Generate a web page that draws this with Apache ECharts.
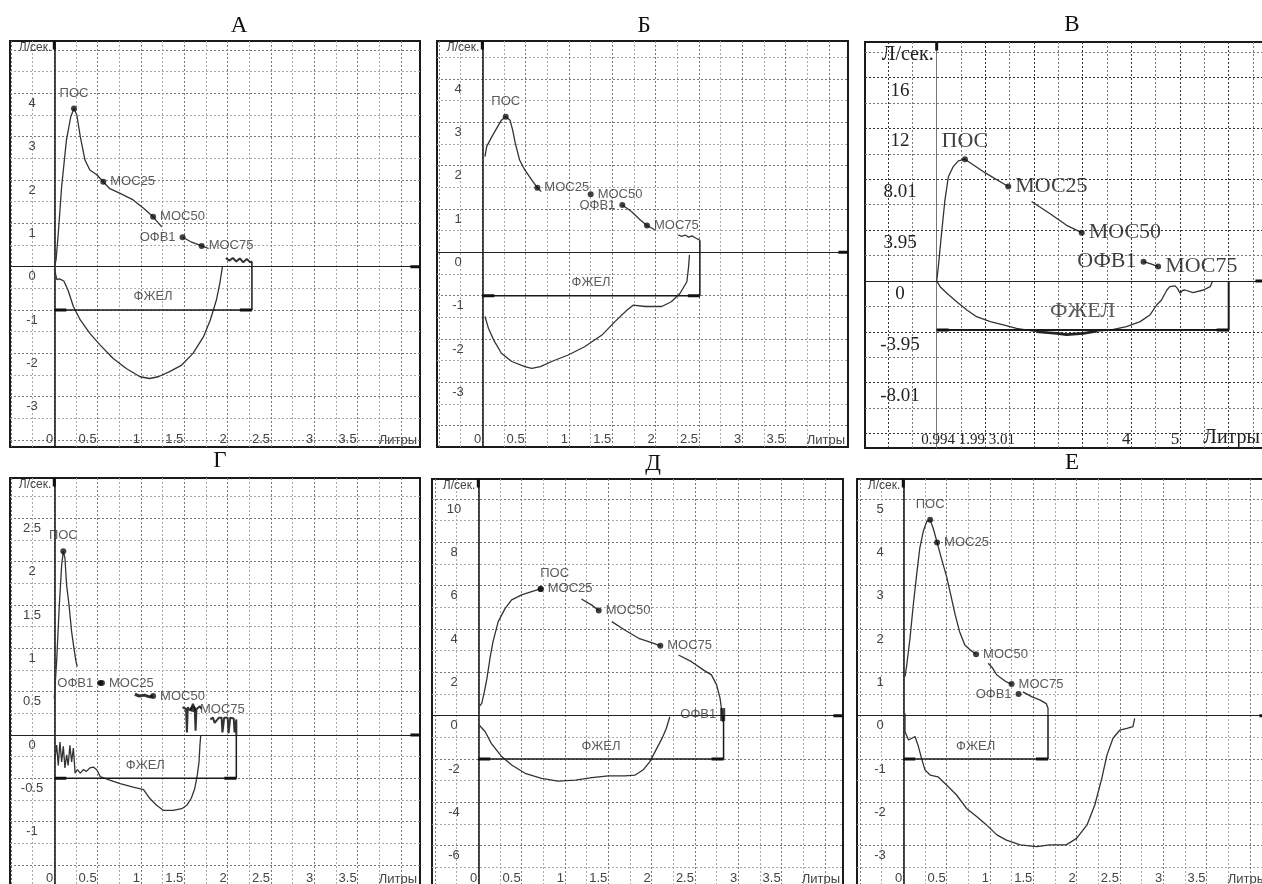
<!DOCTYPE html>
<html><head><meta charset="utf-8">
<script src="https://cdn.jsdelivr.net/npm/echarts@6/dist/echarts.min.js"></script>
<style>html,body{margin:0;padding:0;background:#fff}#c{width:1262px;height:884px}</style>
</head><body><div id="c"></div>
<script>
// ================= DATA =================
const panelTitles = ['А', 'Б', 'В', 'Г', 'Д', 'Е'];
const pointNames = ['ПОС', 'МОС25', 'МОС50', 'ОФВ1', 'МОС75'];
const fvcName = 'ФЖЕЛ';
const yUnit = 'Л/сек.';
const xUnit = 'Литры';

const expA = [
  [[0,0],[0.02,0.15],[0.046,0.77],[0.085,1.85],[0.14,2.92],[0.19,3.46],[0.227,3.65],[0.26,3.5],[0.30,3.0],[0.354,2.46],[0.41,2.23],[0.49,2.12],[0.565,1.96],[0.64,1.8],[0.76,1.69],[0.91,1.54],[1.03,1.35],[1.14,1.15],[1.24,0.92]],
  [[1.48,0.68],[1.57,0.58],[1.70,0.48],[1.78,0.42]],
  [[1.98,0.2],[2.02,0.14],[2.06,0.2],[2.1,0.12],[2.14,0.19],[2.18,0.1],[2.22,0.18],[2.26,0.1],[2.28,0.12]]
];
const inspA = [[0.0,-0.05],[0.03,-0.3],[0.06,-0.28],[0.11,-0.33],[0.16,-0.55],[0.22,-0.92],[0.30,-1.23],[0.41,-1.54],[0.53,-1.81],[0.68,-2.12],[0.83,-2.35],[0.99,-2.54],[1.10,-2.58],[1.2,-2.54],[1.33,-2.42],[1.47,-2.27],[1.60,-2.0],[1.72,-1.62],[1.80,-1.23],[1.87,-0.77],[1.91,-0.38],[1.94,0]];
const pointsA = [[0.227,3.65],[0.565,1.96],[1.14,1.15],[1.48,0.68],[1.70,0.48]];
const fvcA = 2.28, fvcLevelA = -1;

const expB = [
  [[0.03,2.21],[0.05,2.44],[0.11,2.67],[0.165,2.86],[0.22,3.05],[0.27,3.13],[0.32,3.05],[0.35,2.82],[0.38,2.52],[0.43,2.13],[0.49,1.9],[0.57,1.67],[0.635,1.49],[0.68,1.4]],
  [[1.615,1.09],[1.68,1.0],[1.72,0.94],[1.82,0.75],[1.9,0.62],[1.99,0.52]],
  [[2.26,0.4],[2.3,0.37],[2.34,0.4],[2.38,0.35],[2.42,0.38],[2.46,0.33],[2.51,0.28]]
];
const inspB = [[0.03,-1.48],[0.07,-1.75],[0.13,-2.02],[0.22,-2.33],[0.34,-2.52],[0.49,-2.64],[0.57,-2.68],[0.67,-2.64],[0.8,-2.52],[0.99,-2.37],[1.18,-2.18],[1.38,-1.91],[1.53,-1.6],[1.67,-1.33],[1.74,-1.22],[1.88,-1.25],[2.07,-1.25],[2.18,-1.14],[2.28,-0.95],[2.36,-0.68],[2.38,-0.33],[2.39,-0.06]];
const pointsB = [[0.27,3.13],[0.635,1.49],[1.25,1.34],[1.615,1.09],[1.9,0.62]];
const fvcB = 2.51, fvcLevelB = -1;

const expV = [
  [[0,0],[0.034,1.13],[0.10,3.75],[0.17,6.38],[0.24,8.2],[0.34,9.0],[0.445,9.45],[0.58,9.58],[1.0,8.5],[1.47,7.43]],
  [[1.95,6.25],[2.33,5.29],[2.67,4.38],[2.98,3.8]],
  [[4.25,1.52],[4.4,1.35],[4.55,1.13]]
];
const inspV = [[0,0],[0.07,-0.45],[0.21,-0.97],[0.41,-1.63],[0.62,-2.28],[0.82,-2.81],[1.1,-3.2],[1.37,-3.46],[1.64,-3.73],[2.05,-3.99],[2.47,-4.12],[2.67,-4.22],[3.01,-4.12],[3.29,-3.95],[3.56,-3.86],[3.9,-3.6],[4.18,-3.2],[4.38,-2.68],[4.52,-1.89],[4.62,-1.5],[4.73,-0.71],[4.79,-0.45],[4.9,-0.39],[4.95,-0.6],[5.0,-0.97],[5.05,-0.75],[5.1,-0.71],[5.27,-0.92],[5.48,-0.71],[5.62,-0.45],[5.67,0]];
const pointsV = [[0.58,9.58],[1.47,7.43],[2.98,3.8],[4.25,1.52],[4.55,1.13]];
const fvcV = 6.0, fvcLevelV = -3.86;

const expG = [
  [[0.0,0.42],[0.027,0.85],[0.058,1.5],[0.085,1.96],[0.104,2.12],[0.123,2.04],[0.142,1.73],[0.17,1.5],[0.2,1.19],[0.227,1.0],[0.25,0.85],[0.265,0.79]],
  [[0.5,0.6],[0.56,0.6]],
  [[0.93,0.47],[0.98,0.45],[1.04,0.46],[1.1,0.44],[1.14,0.45]],
  [[1.48,0.32],[1.52,0.3],[1.53,0.03],[1.54,0.32],[1.57,0.28],[1.6,0.36],[1.62,0.3],[1.63,0.05],[1.64,0.3],[1.68,0.33],[1.7,0.3]],
  [[1.8,0.18],[1.83,0.2],[1.85,0.14],[1.9,0.2],[1.93,0.2],[1.94,0.03],[1.96,0.2],[2.0,0.2],[2.01,0.02],[2.03,0.2],[2.07,0.19],[2.08,0.03],[2.1,0.18],[2.1,0.0]]
];
const inspG = [[0.008,-0.27],[0.027,-0.115],[0.046,-0.35],[0.065,-0.08],[0.085,-0.31],[0.104,-0.13],[0.123,-0.38],[0.142,-0.23],[0.16,-0.35],[0.18,-0.12],[0.2,-0.31],[0.22,-0.15],[0.24,-0.44],[0.265,-0.40],[0.30,-0.44],[0.335,-0.40],[0.37,-0.42],[0.41,-0.38],[0.45,-0.37],[0.49,-0.40],[0.53,-0.48],[0.64,-0.52],[0.76,-0.56],[0.91,-0.6],[1.03,-0.63],[1.10,-0.73],[1.18,-0.81],[1.26,-0.87],[1.37,-0.87],[1.47,-0.85],[1.53,-0.81],[1.58,-0.73],[1.62,-0.62],[1.65,-0.46],[1.67,-0.31],[1.68,-0.12],[1.69,0]];
const pointsG = [[0.104,2.12],[0.55,0.6],[1.14,0.45],[0.53,0.6],[1.6,0.3]];
const fvcG = 2.1, fvcLevelG = -0.5;

const expD = [
  [[0.01,0.42],[0.04,0.57],[0.07,1.1],[0.1,1.72],[0.135,2.65],[0.17,3.42],[0.23,4.34],[0.31,4.95],[0.385,5.34],[0.5,5.57],[0.615,5.72],[0.72,5.85]],
  [[1.19,5.38],[1.31,5.1],[1.39,4.85]],
  [[1.54,4.34],[1.69,3.95],[1.85,3.57],[2.0,3.37],[2.10,3.22]],
  [[2.31,2.8],[2.46,2.49],[2.6,2.1],[2.69,1.88],[2.75,1.42],[2.79,0.8],[2.81,0.18],[2.82,-0.28]]
];
const inspD = [[0.01,-0.43],[0.08,-0.74],[0.15,-1.28],[0.27,-1.89],[0.385,-2.28],[0.54,-2.66],[0.73,-2.89],[0.92,-3.02],[1.12,-2.97],[1.31,-2.86],[1.5,-2.78],[1.69,-2.78],[1.81,-2.74],[1.9,-2.51],[1.98,-2.12],[2.04,-1.66],[2.12,-1.05],[2.17,-0.58],[2.21,-0.05]];
const pointsD = [[0.72,5.85],[0.72,5.85],[1.39,4.85],[2.82,0.05],[2.10,3.22]];
const fvcD = 2.83, fvcLevelD = -2;

const expE = [
  [[0.02,0.9],[0.04,1.17],[0.077,1.78],[0.115,2.55],[0.154,3.25],[0.19,3.86],[0.23,4.25],[0.27,4.48],[0.31,4.52],[0.346,4.32],[0.39,4.0],[0.44,3.63],[0.5,3.21],[0.54,2.86],[0.6,2.32],[0.65,1.94],[0.71,1.63],[0.77,1.52],[0.84,1.42]],
  [[0.98,1.21],[1.03,1.1],[1.08,0.94],[1.19,0.78],[1.25,0.73]],
  [[1.38,0.55],[1.48,0.44],[1.58,0.36],[1.65,0.28],[1.67,0.17],[1.67,0.02]]
];
const inspE = [[0.02,0.05],[0.02,-0.37],[0.06,-0.56],[0.1,-0.52],[0.135,-0.48],[0.17,-0.68],[0.21,-0.98],[0.25,-1.25],[0.31,-1.37],[0.4,-1.41],[0.5,-1.6],[0.615,-1.83],[0.73,-2.14],[0.85,-2.33],[0.96,-2.52],[1.08,-2.75],[1.19,-2.87],[1.35,-2.98],[1.54,-3.02],[1.69,-2.98],[1.88,-2.98],[2.0,-2.83],[2.12,-2.52],[2.21,-2.06],[2.29,-1.45],[2.35,-0.91],[2.42,-0.52],[2.5,-0.33],[2.58,-0.29],[2.65,-0.25],[2.67,-0.06]];
const pointsE = [[0.31,4.52],[0.39,4.0],[0.84,1.42],[1.33,0.5],[1.25,0.73]];
const fvcE = 1.67, fvcLevelE = -1;

const xTickVals = [0, 0.5, 1, 1.5, 2, 2.5, 3, 3.5];
const xTickText = ['0', '0.5', '1', '1.5', '2', '2.5', '3', '3.5'];
const xTickValsV = [0, 0.75, 4, 5];
const xTickTextV = ['0', '0.994 1.99 3.01', '4', '5'];
const yTickValsA = [-3, -2, -1, 0, 1, 2, 3, 4];
const yTickValsB = [-3, -2, -1, 0, 1, 2, 3, 4];
const yTickValsV = [-8, -4, 0, 4, 8, 12, 16];
const yTickTextV = ['-8.01', '-3.95', '0', '3.95', '8.01', '12', '16'];
const yTickValsG = [-1, -0.5, 0, 0.5, 1, 1.5, 2, 2.5];
const yTickValsD = [-6, -4, -2, 0, 2, 4, 6, 8, 10];
const yTickValsE = [-3, -2, -1, 0, 1, 2, 3, 4, 5];

// ================= LAYOUT / STYLE =================
const panels = [
  {exp: expA, insp: inspA, pts: pointsA, fvc: fvcA, lvl: fvcLevelA, xv: xTickVals, xt: xTickText, yv: yTickValsA, yt: yTickValsA.map(String)},
  {exp: expB, insp: inspB, pts: pointsB, fvc: fvcB, lvl: fvcLevelB, xv: xTickVals, xt: xTickText, yv: yTickValsB, yt: yTickValsB.map(String)},
  {exp: expV, insp: inspV, pts: pointsV, fvc: fvcV, lvl: fvcLevelV, xv: xTickValsV, xt: xTickTextV, yv: yTickValsV, yt: yTickTextV},
  {exp: expG, insp: inspG, pts: pointsG, fvc: fvcG, lvl: fvcLevelG, xv: xTickVals, xt: xTickText, yv: yTickValsG, yt: yTickValsG.map(String)},
  {exp: expD, insp: inspD, pts: pointsD, fvc: fvcD, lvl: fvcLevelD, xv: xTickVals, xt: xTickText, yv: yTickValsD, yt: yTickValsD.map(String)},
  {exp: expE, insp: inspE, pts: pointsE, fvc: fvcE, lvl: fvcLevelE, xv: xTickVals, xt: xTickText, yv: yTickValsE, yt: yTickValsE.map(String)}
];
// yc: centre of the y tick labels measured from the grid's left edge
const layouts = [
  {left:10,  top:41,  width:410, height:406, x:[-0.511,4.219], y:[-4.161,5.208], xs:0.25, ys:0.5,  serif:false, yc:22, title:[239,26],  thick:[1,1,2], fvcK:0.68},
  {left:437, top:41,  width:411, height:406, x:[-0.523,4.219], y:[-4.493,4.877], xs:0.25, ys:0.5,  serif:false, yc:21, title:[644,26],  thick:[1,1,1], fvcK:0.7},
  {left:865, top:42,  width:400, height:406, x:[-1.473,6.746], y:[-13.14,18.8],  xs:0.5,  ys:2,    serif:true,  yc:35, title:[1072,25], thick:[1,1,1], fvcK:0.62, inspThick:[2.0,3.3]},
  {left:10,  top:478, width:410, height:408, x:[-0.511,4.219], y:[-1.742,2.965], xs:0.25, ys:0.25, serif:false, yc:22, title:[220,461], thick:[1,3,3,2,2], fvcK:0.7},
  {left:432, top:479, width:411, height:407, x:[-0.534,4.208], y:[-7.86,10.92],  xs:0.25, ys:1,    serif:false, yc:22, title:[653,464], thick:[1,1,1,1], fvcK:0.71, posOffset:[14,0], ofvRect:true},
  {left:857, top:479, width:412, height:407, x:[-0.534,4.22],  y:[-3.93,5.463],  xs:0.25, ys:0.5,  serif:false, yc:23, title:[1072,463], thick:[1,1,1], fvcK:0.72}
];

const SANS = '"Liberation Sans", Arial, sans-serif';
const SERIF = '"Liberation Serif", "Times New Roman", serif';
const CURVE = '#333';

function gridVals(min, max, step) {
  const out = [];
  for (let k = Math.ceil(min / step - 1e-9); k * step <= max + 1e-9; k++) out.push(+(k * step).toFixed(6));
  return out;
}
function altColors(min, step, dark, light) {
  const k0 = Math.ceil(min / step - 1e-9);
  return Math.abs(k0) % 2 === 0 ? [dark, light] : [light, dark];
}
function lookup(vals, texts, v) {
  for (let i = 0; i < vals.length; i++) if (Math.abs(vals[i] - v) < 1e-6) return texts[i];
  return '';
}

const grids = [], xAxes = [], yAxes = [], series = [], graphics = [];

panels.forEach((P, i) => {
  const L = layouts[i];
  const font = L.serif ? SERIF : SANS;
  const fs = L.serif ? 17 : 13;
  const yfs = L.serif ? 19 : 13;
  const mfs = L.serif ? 22 : 13;
  const lblColor = L.serif ? '#222' : '#444';
  const pxPerX = L.width / (L.x[1] - L.x[0]);
  const pxPerY = L.height / (L.y[1] - L.y[0]);

  grids.push({left: L.left, top: L.top, width: L.width, height: L.height, show: true,
    borderColor: '#1a1a1a', borderWidth: 2, backgroundColor: 'transparent', containLabel: false, outerBoundsMode: 'none'});

  xAxes.push({
    type: 'value', gridIndex: i, min: L.x[0], max: L.x[1], position: 'bottom',
    axisLine: {show: false, onZero: false},
    axisTick: {show: false, customValues: gridVals(L.x[0], L.x[1], L.xs)},
    splitLine: {show: true, lineStyle: {color: altColors(L.x[0], L.xs, L.serif ? '#333' : '#777', L.serif ? '#777' : '#aaa'), width: 1, type: [2, 2]}},
    axisLabel: {show: true, inside: true, margin: L.serif ? 0 : 1, customValues: P.xv, hideOverlap: false,
      formatter: v => {
        const t = lookup(P.xv, P.xt, v);
        return (L.serif && t.length > 3) ? '{s|' + t + '}' : t;
      },
      rich: {s: {fontFamily: font, fontSize: 15, color: lblColor}},
      color: lblColor, fontFamily: font, fontSize: fs,
      align: L.serif ? 'center' : 'right', padding: L.serif ? [0, 10, 0, 0] : [0, 1, 0, 0]},
    name: xUnit, nameLocation: 'end', nameGap: L.serif ? -5 : -3, nameMoveOverlap: false,
    nameTextStyle: {align: 'right', verticalAlign: 'bottom', color: lblColor, fontFamily: font,
      fontSize: L.serif ? 20 : fs, fontWeight: 'normal'}
  });

  yAxes.push({
    type: 'value', gridIndex: i, min: L.y[0], max: L.y[1],
    axisLine: {show: true, onZero: true, lineStyle: {color: L.serif ? '#777' : '#111', width: L.serif ? 1 : 1.5}},
    axisTick: {show: false, customValues: gridVals(L.y[0], L.y[1], L.ys)},
    splitLine: {show: true, lineStyle: {color: altColors(L.y[0], L.ys, L.serif ? '#333' : '#777', L.serif ? '#777' : '#aaa'), width: 1, type: [2, 2]}},
    axisLabel: {show: true, customValues: P.yv, hideOverlap: false, align: 'center', margin: -L.yc,
      formatter: v => '{v|' + lookup(P.yv, P.yt, v) + '}',
      rich: {v: {padding: [L.serif ? 26 : 20, 0, 0, 0], fontFamily: font, fontSize: yfs, color: lblColor}}},
    name: yUnit, nameLocation: 'end', nameGap: L.serif ? -3 : -1, nameMoveOverlap: false,
    nameTextStyle: {align: 'right', verticalAlign: 'top', color: lblColor, fontFamily: font, fontSize: L.serif ? 20 : 12, padding: [0, 3, 0, 0]}
  });

  const base = {xAxisIndex: i, yAxisIndex: i, silent: true, animation: false};
  P.exp.forEach((seg, k) => {
    const w = (L.thick[k] || 1) > 1 ? L.thick[k] : 1.3;
    series.push(Object.assign({type: 'line', data: seg, symbol: 'none', z: 4,
      lineStyle: {color: CURVE, width: w}}, base));
  });
  series.push(Object.assign({type: 'line', data: P.insp, symbol: 'none', z: 4,
    lineStyle: {color: CURVE, width: 1.3}}, base));
  if (L.inspThick) {
    series.push(Object.assign({type: 'line', data: P.insp.filter(p => p[0] >= L.inspThick[0] && p[0] <= L.inspThick[1]),
      symbol: 'none', z: 4, lineStyle: {color: '#222', width: 2.6}}, base));
  }
  const lastSeg = P.exp[P.exp.length - 1];
  const last = lastSeg[lastSeg.length - 1];
  const topY = Math.abs(last[0] - P.fvc) < 0.05 ? Math.max(0, last[1]) : 0;
  series.push(Object.assign({type: 'line', data: [[0, P.lvl], [P.fvc, P.lvl], [P.fvc, topY]], symbol: 'none', z: 5,
    lineStyle: {color: '#1a1a1a', width: L.serif ? 2 : 1.5},
    markLine: {silent: true, symbol: 'none', animation: false, label: {show: false},
      lineStyle: {color: '#222', width: 1.2, type: 'solid'}, data: [{yAxis: 0}]}}, base));
  // thick short marks: box corners, right end of zero line, top of the flow axis
  const cw = 12 / pxPerX, ch = 12 / pxPerY;
  const thickMark = d => series.push(Object.assign({type: 'line', data: d, symbol: 'none', z: 6, lineStyle: {color: '#111', width: 3}}, base));
  thickMark([[0, P.lvl], [cw, P.lvl]]);
  thickMark([[P.fvc - cw, P.lvl], [P.fvc, P.lvl]]);
  thickMark([[L.x[1] - cw * 0.8, 0], [L.x[1], 0]]);
  thickMark([[0, L.y[1] - ch * 0.7], [0, L.y[1]]]);
  series.push(Object.assign({type: 'scatter', symbolSize: 0, z: 6,
    data: [{value: [P.fvc / 2, P.lvl * L.fvcK]}],
    label: {show: true, position: 'inside', formatter: fvcName, color: '#333', fontFamily: font, fontSize: L.serif ? 22 : 13}}, base));
  series.push(Object.assign({type: 'scatter', symbol: 'circle', symbolSize: 6, z: 7,
    itemStyle: {color: '#111'},
    data: P.pts.map((p, k) => {
      const nm = pointNames[k];
      const pos = nm === 'ПОС' ? 'top' : (nm === 'ОФВ1' ? 'left' : 'right');
      const lab = {position: pos, distance: nm === 'ПОС' ? (L.serif ? 4 : 6) : 4};
      if (nm === 'ПОС' && L.posOffset) lab.offset = L.posOffset;
      const item = {value: p, name: nm, label: lab};
      if (nm === 'ОФВ1' && L.ofvRect) { item.symbol = 'rect'; item.symbolSize = [5, 13]; }
      return item;
    }),
    label: {show: true, formatter: p => p.name, color: L.serif ? '#111' : '#333', fontFamily: font, fontSize: mfs}}, base));

  graphics.push({type: 'text', x: L.title[0], y: L.title[1], silent: true,
    style: {text: panelTitles[i], font: '23px ' + SERIF, fill: '#111', align: 'center', verticalAlign: 'middle', textAlign: 'center', textVerticalAlign: 'middle'}});
});

const chart = echarts.init(document.getElementById('c'), null, {renderer: 'canvas'});
chart.setOption({
  animation: false,
  backgroundColor: '#fff',
  grid: grids,
  xAxis: xAxes,
  yAxis: yAxes,
  series: series,
  graphic: graphics
});
</script></body></html>
